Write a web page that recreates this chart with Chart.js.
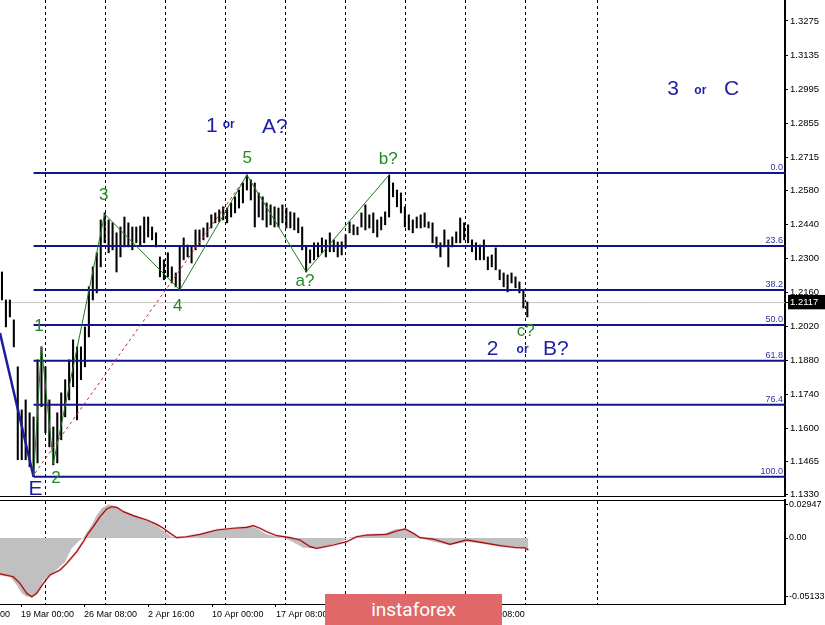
<!DOCTYPE html>
<html>
<head>
<meta charset="utf-8">
<script src="https://cdn.jsdelivr.net/npm/chart.js@4.4.1/dist/chart.umd.min.js"></script>
<style>
html,body{margin:0;padding:0;background:#fff;}
#wrap{position:relative;width:825px;height:625px;overflow:hidden;background:#fff;}
#main{position:absolute;left:0;top:0;}
#macd{position:absolute;left:0;top:499px;}
#wm{position:absolute;left:325px;top:594px;width:177px;height:31px;background:#e06868;color:#fff;font-family:Roboto,"Open Sans",sans-serif;font-size:19px;line-height:31px;text-align:center;}
</style>
</head>
<body>
<div id="wrap">
<canvas id="main" width="825" height="500"></canvas>
<canvas id="macd" width="825" height="126"></canvas>
<div id="wm">instaforex</div>
</div>
<script>
// ---- price bars (one bar = 8h), high / low ----
const highs = [1.2243,1.2128,1.2128,1.2046,1.1853,1.1676,1.1717,1.1664,1.1647,1.1882,1.1935,1.1853,1.1717,1.1606,1.1664,1.1746,1.1800,1.1882,1.1964,1.1935,
1.1935,1.2017,1.2182,1.2264,1.2322,1.2457,1.2486,1.2457,1.2445,1.2404,1.2428,1.2469,1.2445,1.2428,1.2428,1.2432,1.2469,1.2469,1.2428,1.2404,
1.2305,1.2293,1.2322,1.2264,1.2239,1.2346,1.2383,1.2354,1.2346,1.2416,1.2416,1.2424,1.2445,1.2478,1.2486,1.2498,1.2511,1.2506,1.2527,1.2552,
1.2580,1.2609,1.2642,1.2622,1.2609,1.2568,1.2552,1.2527,1.2519,1.2511,1.2506,1.2519,1.2506,1.2490,1.2486,1.2465,1.2428,1.2346,1.2334,1.2363,
1.2363,1.2383,1.2375,1.2404,1.2375,1.2366,1.2367,1.2396,1.2449,1.2437,1.2428,1.2486,1.2519,1.2478,1.2486,1.2457,1.2469,1.2490,1.2642,1.2609,
1.2580,1.2568,1.2511,1.2478,1.2457,1.2469,1.2478,1.2486,1.2449,1.2445,1.2387,1.2363,1.2416,1.2375,1.2387,1.2408,1.2465,1.2445,1.2437,1.2375,
1.2363,1.2354,1.2375,1.2305,1.2313,1.2342,1.2252,1.2239,1.2231,1.2239,1.2223,1.2202,1.2169,1.2120];
const lows = [1.2128,1.2017,1.2058,1.1935,1.1471,1.1471,1.1471,1.1442,1.1401,1.1458,1.1689,1.1582,1.1524,1.1450,1.1458,1.1553,1.1647,1.1717,1.1771,1.1635,
1.1800,1.1853,1.1976,1.2128,1.2157,1.2264,1.2363,1.2322,1.2334,1.2243,1.2305,1.2346,1.2346,1.2334,1.2363,1.2354,1.2363,1.2387,1.2375,1.2346,
1.2223,1.2211,1.2223,1.2198,1.2182,1.2169,1.2293,1.2305,1.2280,1.2334,1.2354,1.2375,1.2387,1.2424,1.2445,1.2449,1.2457,1.2445,1.2469,1.2486,
1.2506,1.2527,1.2580,1.2539,1.2428,1.2469,1.2457,1.2428,1.2437,1.2428,1.2428,1.2445,1.2424,1.2424,1.2416,1.2404,1.2334,1.2243,1.2280,1.2293,
1.2305,1.2322,1.2305,1.2326,1.2326,1.2305,1.2313,1.2342,1.2404,1.2396,1.2396,1.2428,1.2416,1.2424,1.2404,1.2387,1.2416,1.2437,1.2469,1.2552,
1.2511,1.2486,1.2428,1.2416,1.2404,1.2424,1.2424,1.2428,1.2424,1.2363,1.2342,1.2305,1.2346,1.2264,1.2346,1.2363,1.2363,1.2375,1.2363,1.2326,
1.2293,1.2293,1.2293,1.2252,1.2264,1.2252,1.2211,1.2182,1.2161,1.2198,1.2178,1.2157,1.2095,1.2058];
const lastPrice = 1.2117;
const priceTicks = [1.1330,1.1465,1.1600,1.1740,1.1880,1.2020,1.2117,1.2160,1.2300,1.2440,1.2580,1.2715,1.2855,1.2995,1.3135,1.3275];

// ---- time axis (bar units) ----
const gridBars = [11.07,26.26,41.45,56.64,71.83,87.02,102.21,117.41,132.59,150.82];
const dateTickBars = [-11.4,4.82,20.77,36.97,53.17,69.37,85.32,101.53,118.7];
const dateLabels = ['12 Mar 16:00','19 Mar 00:00','26 Mar 08:00','2 Apr 16:00','10 Apr 00:00','17 Apr 08:00','24 Apr 16:00','4 May 00:00','11 May 08:00'];

// ---- Fibonacci retracement ----
const fibLevels = ['0.0','23.6','38.2','50.0','61.8','76.4','100.0'];
const fibPrices = [1.2650,1.2350,1.2169,1.2025,1.1878,1.1697,1.1401];
const fibStartBar = 8;

// ---- wave count lines ----
const waveBars = [8,10,13,26,45,62,77,98];
const wavePrices = [1.1405,1.1936,1.1456,1.2481,1.2169,1.2642,1.2244,1.2642];
const priorWaveBars = [-0.5,8];
const priorWavePrices = [1.1992,1.1401];
const trendBars = [8.36,61];
const trendPrices = [1.1416,1.2615];

// ---- wave labels ----
const greenLabels = ['1','2','3','4','5','a?','b?','c?'];
const greenLabelBars = [9.37,13.68,25.75,44.5,62.1,76.7,97.8,132.6];
const greenLabelPrices = [1.2021,1.1396,1.2560,1.2100,1.2710,1.2203,1.2708,1.1998];
const blueLabels = ['E','1','or','A?','2','or','B?','3','or','C'];
const blueLabelBars = [8.49,53.1,57.4,69.1,124.2,131.8,140.2,169.9,176.8,184.7];
const blueLabelPrices = [1.1349,1.2842,1.2850,1.2839,1.1926,1.1924,1.1926,1.2995,1.2987,1.2995];

// ---- MACD ----
const histBars = [-0.5,2.03,3.73,4.99,6.26,7.93,9.20,10.46,12.16,14.26,15.96,17.65,19.32,20.59,21.60,22.72,23.98,25.25,26.92,28.61,30.31,33.25,36.64,39.17,41.27,42.97,45.07,50.13,54.36,58.56,62.36,64.49,67.02,69.55,71.65,73.75,76.28,78.82,82.21,85.58,87.68,90.64,96.54,99.5,102.03,104.56,105.83,109.20,113.42,117.65,121.85,126.08,130.31,133.25];
const histVals = [-0.0323,-0.0338,-0.0410,-0.0483,-0.0513,-0.0510,-0.0469,-0.0367,-0.0323,-0.0265,-0.0207,-0.0090,-0.0032,0.0003,0.0055,0.0114,0.0201,0.0259,0.0295,0.0277,0.0230,0.0201,0.0148,0.0107,0.0055,0.0011,0.0005,0.0026,0.0070,0.0079,0.0105,0.0085,0.0032,0.0011,-0.0003,-0.0038,-0.0085,-0.0090,-0.0067,-0.0038,0.0003,0.0020,0.0032,0.0076,0.0079,0.0032,0.0000,-0.0032,-0.0061,-0.0032,-0.0047,-0.0067,-0.0085,-0.0105];
const sigBars = [-0.5,2.87,4.56,6.26,7.53,8.79,10.46,12.16,14.69,16.39,18.92,20.59,21.85,23.12,24.82,26.51,27.78,29.04,30.72,33.25,36.64,39.17,40.84,42.54,44.23,46.77,50.13,54.36,58.56,61.96,63.63,65.32,67.02,69.55,72.92,75.45,77.98,79.68,83.88,87.27,89.80,92.34,97.40,99.93,102.03,104.13,105.83,109.20,113.42,117.65,120.18,126.08,130.31,132.41,133.25];
const sigVals = [-0.0314,-0.0338,-0.0396,-0.0483,-0.0513,-0.0483,-0.0396,-0.0323,-0.0279,-0.0221,-0.0119,-0.0032,0.0041,0.0099,0.0186,0.0253,0.0273,0.0268,0.0230,0.0195,0.0157,0.0119,0.0085,0.0041,0.0003,0.0011,0.0032,0.0070,0.0085,0.0093,0.0107,0.0085,0.0055,0.0020,0.0003,-0.0017,-0.0076,-0.0090,-0.0061,-0.0032,0.0011,0.0026,0.0032,0.0061,0.0079,0.0041,0.0003,-0.0009,-0.0055,-0.0017,-0.0032,-0.0067,-0.0085,-0.0085,-0.0105];
const macdTicks = [-0.05133,0,0.02947];

// ---------------------------------------------------------------
const X_MIN = -0.5, X_MAX = 198.23;
const FONT = '"Liberation Sans", Arial, sans-serif';
Chart.defaults.font.family = FONT;
Chart.defaults.color = '#000';

const pts = (xs, ys) => xs.map((x, i) => ({x: x, y: ys[i]}));

const labelPlugin = {
  id: 'waveLabels',
  afterDatasetsDraw(chart) {
    const {ctx, chartArea} = chart;
    const x = chart.scales.x, y = chart.scales.y;
    ctx.save();
    ctx.textAlign = 'right';
    ctx.textBaseline = 'bottom';
    ctx.font = '9px ' + FONT;
    ctx.fillStyle = '#3232a0';
    fibLevels.forEach((t, i) => ctx.fillText(t, chartArea.right - 2, y.getPixelForValue(fibPrices[i]) - 1));
    ctx.textAlign = 'center';
    ctx.textBaseline = 'middle';
    ctx.fillStyle = '#238a23';
    ctx.font = '17px ' + FONT;
    greenLabels.forEach((t, i) => ctx.fillText(t, x.getPixelForValue(greenLabelBars[i]), y.getPixelForValue(greenLabelPrices[i])));
    ctx.fillStyle = '#1e1eaa';
    blueLabels.forEach((t, i) => {
      ctx.font = (t === 'or') ? 'bold 12px ' + FONT : '21px ' + FONT;
      ctx.fillText(t, x.getPixelForValue(blueLabelBars[i]), y.getPixelForValue(blueLabelPrices[i]));
    });
    ctx.restore();
  }
};

const mainDatasets = [
  {type: 'line', data: pts(waveBars, wavePrices), borderColor: '#1f7a1f', borderWidth: 1, pointRadius: 0, order: 0},
  {type: 'line', data: pts(trendBars, trendPrices), borderColor: '#c03030', borderWidth: 1, borderDash: [3, 3], pointRadius: 0, order: 0},
  {type: 'line', data: pts(priorWaveBars, priorWavePrices), borderColor: '#1c1ca0', borderWidth: 2.5, pointRadius: 0, order: 0}
];
fibPrices.forEach(p => mainDatasets.push({
  type: 'line', data: [{x: fibStartBar, y: p}, {x: X_MAX, y: p}],
  borderColor: '#14148a', borderWidth: 2, pointRadius: 0, order: 1
}));
mainDatasets.push({
  type: 'bar', data: highs.map((h, i) => ({x: i, y: [lows[i], h]})),
  backgroundColor: '#000', borderWidth: 0, barThickness: 1.4, grouped: false, order: 5
});
mainDatasets.push({
  type: 'line', data: [{x: X_MIN, y: lastPrice}, {x: X_MAX, y: lastPrice}],
  borderColor: '#c4c4c4', borderWidth: 1, pointRadius: 0, order: 10
});

new Chart(document.getElementById('main'), {
  type: 'bar',
  data: {datasets: mainDatasets},
  options: {
    responsive: false, animation: false, devicePixelRatio: 1, events: [],
    layout: {padding: 0},
    plugins: {legend: {display: false}, tooltip: {enabled: false}},
    scales: {
      x: {
        type: 'linear', min: X_MIN, max: X_MAX, offset: false, position: 'bottom',
        grid: {display: true, offset: false, color: '#000', lineWidth: 1, drawTicks: false, drawOnChartArea: true},
        border: {display: true, color: '#000', width: 1, dash: [3, 3]},
        ticks: {display: false},
        afterBuildTicks: s => { s.ticks = gridBars.map(v => ({value: v})); },
        afterFit: s => { s.height = 4; s.paddingLeft = 0; s.paddingRight = 0; }
      },
      y: {
        type: 'linear', position: 'right', min: 1.13219, max: 1.33613,
        grid: {drawOnChartArea: false, drawTicks: true, tickLength: 3, color: '#000'},
        border: {display: true, color: '#000', width: 2},
        ticks: {
          autoSkip: false, padding: 2, font: {size: 9.5},
          color: c => (c.tick && c.tick.value === lastPrice) ? '#fff' : '#000',
          showLabelBackdrop: c => !!(c.tick && c.tick.value === lastPrice),
          backdropColor: '#000',
          backdropPadding: {top: 2, bottom: 1, left: 2, right: 10},
          callback: v => Number(v).toFixed(4)
        },
        afterBuildTicks: s => { s.ticks = priceTicks.map(v => ({value: v})); },
        afterFit: s => { s.width = 40; s.paddingTop = 0; s.paddingBottom = 0; }
      }
    }
  },
  plugins: [labelPlugin]
});

new Chart(document.getElementById('macd'), {
  type: 'line',
  data: {datasets: [
    {data: pts(sigBars, sigVals), borderColor: '#9a1010', borderWidth: 1.2, pointRadius: 0, fill: false, order: 0},
    {data: pts(sigBars, sigVals), borderColor: 'rgba(235,120,120,0.4)', borderWidth: 2.5, pointRadius: 0, fill: false, order: 1},
    {data: pts(histBars, histVals), borderWidth: 0, borderColor: 'rgba(0,0,0,0)', backgroundColor: '#c0c0c0', fill: 'origin', pointRadius: 0, order: 2}
  ]},
  options: {
    responsive: false, animation: false, devicePixelRatio: 1, events: [],
    layout: {padding: 0},
    plugins: {legend: {display: false}, tooltip: {enabled: false}},
    scales: {
      x: {
        type: 'linear', position: 'top', min: X_MIN, max: X_MAX, offset: false,
        grid: {display: true, color: '#000', lineWidth: 1, drawTicks: false, drawOnChartArea: true},
        border: {display: true, color: '#000', width: 1, dash: [3, 3]},
        ticks: {display: false},
        afterBuildTicks: s => { s.ticks = gridBars.map(v => ({value: v})); },
        afterFit: s => { s.height = 1; s.paddingLeft = 0; s.paddingRight = 0; }
      },
      xl: {
        type: 'linear', axis: 'x', position: 'bottom', min: X_MIN, max: X_MAX, offset: false,
        grid: {display: true, drawOnChartArea: false, drawTicks: true, tickLength: 3, color: '#000'},
        border: {display: true, color: '#000', width: 1},
        ticks: {autoSkip: false, maxRotation: 0, minRotation: 0, align: 'start', padding: 2, font: {size: 9}, color: '#000',
          callback: (v, i) => dateLabels[i]},
        afterBuildTicks: s => { s.ticks = dateTickBars.map(v => ({value: v})); },
        afterFit: s => { s.height = 21; s.paddingLeft = 0; s.paddingRight = 0; }
      },
      y: {
        type: 'linear', position: 'right', min: -0.05764, max: 0.03319,
        grid: {drawOnChartArea: false, drawTicks: true, tickLength: 3, color: '#000'},
        border: {display: true, color: '#000', width: 2},
        ticks: {autoSkip: false, padding: 1, font: {size: 9}, color: '#000',
          callback: v => (v === 0 ? '0.00' : Number(v).toFixed(5))},
        afterBuildTicks: s => { s.ticks = macdTicks.map(v => ({value: v})); },
        afterFit: s => { s.width = 40; s.paddingTop = 0; s.paddingBottom = 0; }
      }
    }
  }
});
</script>
</body>
</html>
